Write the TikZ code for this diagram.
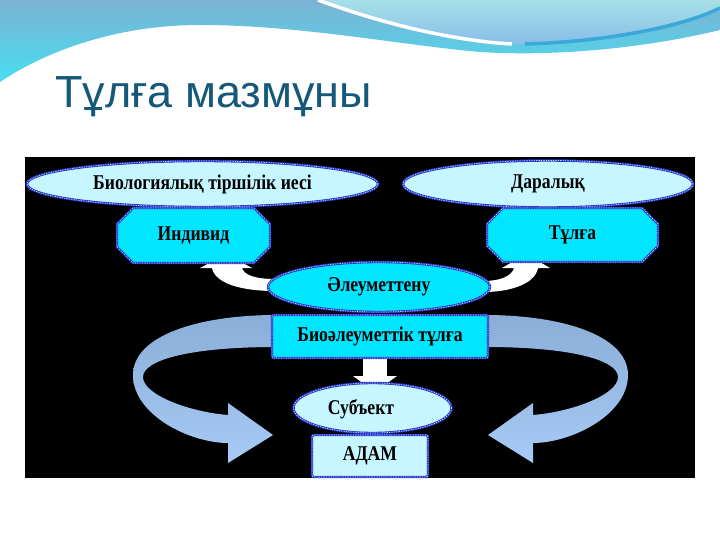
\documentclass[tikz,border=0pt]{standalone}
\usepackage{fontspec}
\setmainfont{Liberation Serif}
\newfontfamily\titlefont{Liberation Sans}
\newfontfamily\nodefont{Liberation Serif}[FakeStretch=0.84]
\usetikzlibrary{shapes.geometric,shapes.misc}
\definecolor{bord}{HTML}{2A34C8}
\definecolor{palecyan}{HTML}{C6F6FF}
\definecolor{brightcyan}{HTML}{00E6FF}
\definecolor{titlecol}{HTML}{15587A}
\definecolor{arrtop}{HTML}{8AAED8}
\definecolor{arrbot}{HTML}{A8CAF6}
\definecolor{wavetop}{RGB}{124,178,212}
\definecolor{wavebot}{RGB}{70,222,240}
\definecolor{lighttop}{RGB}{166,224,232}
\definecolor{lightbot}{RGB}{136,190,232}
\definecolor{wavestroke}{RGB}{58,168,216}
\tikzset{
  frame/.style={draw=bord, line width=2.4pt,
    postaction={draw=white!70!cyan, line width=0.7pt, dash pattern=on 1.2pt off 1.2pt}},
  lbl/.style={font=\nodefont\bfseries\fontsize{21}{22}\selectfont, text=black, inner sep=0pt},
  ell/.style={ellipse, frame, lbl},
  oct/.style={chamfered rectangle, chamfered rectangle xsep=8pt, chamfered rectangle ysep=8pt, frame, lbl, fill=brightcyan},
  box/.style={rectangle, rounded corners=2pt, frame, lbl},
  whitearrow/.style={fill=white, draw=none},
  bigarrow/.style={top color=arrtop, bottom color=arrbot, draw=none}
}
\begin{document}
\begin{tikzpicture}[x=1pt,y=-1pt]
\useasboundingbox (0,0) rectangle (720,540);
\fill[white] (0,0) rectangle (720,540);
% top waves
\shade[top color=wavetop, bottom color=wavebot]
  (0,0) -- (0,82) .. controls (40,55) and (110,25) .. (200,25)
  .. controls (300,25) and (400,45) .. (480,52)
  .. controls (560,57) and (650,47) .. (720,30) -- (720,0) -- cycle;
\shade[top color=lighttop, bottom color=lightbot]
  (318,0) .. controls (400,30) and (470,42) .. (515,44)
  .. controls (600,44) and (680,28) .. (720,8) -- (720,0) -- cycle;
\draw[white, line width=3.5pt] (318,0) .. controls (400,30) and (470,42) .. (512,44);
\draw[wavestroke, line width=3.5pt] (525,44) .. controls (600,42) and (680,28) .. (720,8);
% title
\node[anchor=base west, font=\titlefont\fontsize{45}{45}\selectfont, text=titlecol, inner sep=0pt] (title) at (55,108) {Тұлға мазмұны};
% black panel
\fill[black] (25,157) rectangle (695,478);
% big curved arrows
\path[bigarrow] (276,315) .. controls (200,315) and (133,335) .. (133,375)
  .. controls (133,415) and (190,443) .. (228,443) -- (228,463) -- (273,435) -- (228,403) -- (228,415)
  .. controls (190,412) and (143,395) .. (143,377)
  .. controls (143,360) and (190,347) .. (276,347) -- cycle;
\path[bigarrow] (485,315) .. controls (561,315) and (628,335) .. (628,375)
  .. controls (628,415) and (571,443) .. (533,443) -- (533,463) -- (488,435) -- (533,403) -- (533,415)
  .. controls (571,412) and (618,395) .. (618,377)
  .. controls (618,360) and (571,347) .. (485,347) -- cycle;
% small white arrows
\path[whitearrow] (275,279) .. controls (255,279) and (244,275) .. (242,268) -- (252,268) -- (226,254)
  -- (200,268) -- (212,268) .. controls (215,283) and (240,291) .. (275,291) -- cycle;
\path[whitearrow] (484,281) .. controls (500,281) and (512,276) .. (514,268) -- (502,268) -- (526,254)
  -- (550,268) -- (538,268) .. controls (535,284) and (510,292) .. (484,292) -- cycle;
\path[whitearrow] (363,354) rectangle (387,377);
\path[whitearrow] (353,376) -- (397,376) -- (375,392) -- cycle;
% nodes
\node[ell, fill=palecyan, minimum width=351pt, minimum height=46pt] (bio) at (202.5,184) {Биологиялық тіршілік иесі};
\node[ell, fill=palecyan, minimum width=290pt, minimum height=47pt] (dara) at (548,184) {Даралық};
\node[oct, minimum width=153pt, minimum height=55pt] (ind) at (193.5,235.5) {Индивид};
\node[oct, minimum width=171pt, minimum height=54pt] (tul) at (572.5,235) {Тұлға};
\node[ell, fill=brightcyan, minimum width=222pt, minimum height=50pt] (aleu) at (379,287) {Әлеуметтену};
\node[box, fill=brightcyan, minimum width=216pt, minimum height=43pt] (bioal) at (380,336.5) {Биоәлеуметтік тұлға};
\node[ell, fill=palecyan, minimum width=158pt, minimum height=50pt] (sub) at (372.5,408) {};
\node[lbl] (subt) at (361,409) {Субъект};
\node[box, fill=palecyan, minimum width=116pt, minimum height=42pt] (adam) at (370,456) {АДАМ};
\end{tikzpicture}
\end{document}
